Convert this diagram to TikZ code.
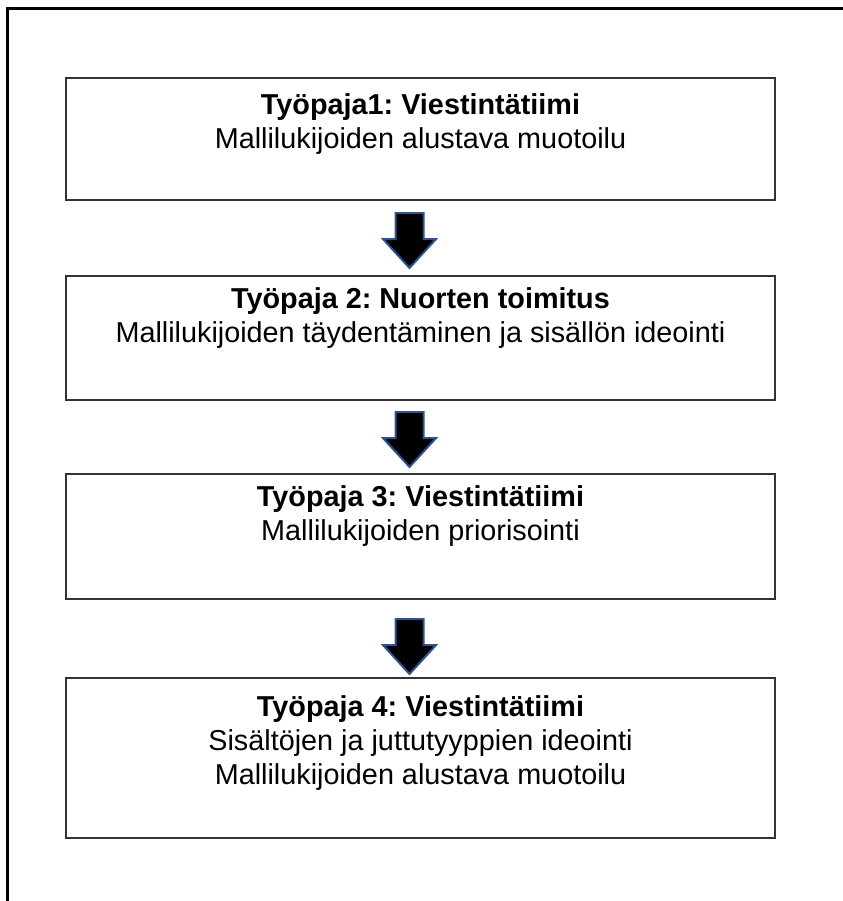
\documentclass[tikz,border=0pt]{standalone}
\usepackage{fontspec}
\setmainfont{Liberation Sans}
\frenchspacing
\usetikzlibrary{calc,shapes.arrows}
\definecolor{arrowblue}{RGB}{47,82,143}
\tikzset{
	phase/.style={draw=black!80, line width=1.5pt, minimum width=531.75pt, anchor=north west, inner sep=0pt},
	phasetext/.style={anchor=north, align=center, inner sep=0pt, font=\fontsize{21.6}{25.5}\selectfont},
	downarrow/.style={single arrow, shape border rotate=270, fill=black, draw=arrowblue, line width=1.5pt,
		minimum height=41.25pt, minimum width=38.25pt, single arrow head extend=9.4pt,
		single arrow tip angle=85, inner xsep=9.75pt, inner ysep=0pt, anchor=tail}
}

\begin{document}
\begin{tikzpicture}[x=0.75pt, y=-0.75pt]
		%%%%% START %%%%%
		\useasboundingbox (0, 0) rectangle (843, 901);
		
		\draw[line width=2.25pt] (7.5, 901) -- (7.5, 8.5) -- (843, 8.5);
		
		\node[phase, minimum height=91.5pt] (ws1) at (65, 77) {};
		\node[phase, minimum height=93pt] (ws2) at (65, 275) {};
		\node[phase, minimum height=93.75pt] (ws3) at (65, 473) {};
		\node[phase, minimum height=120pt] (ws4) at (65, 677) {};
		
		\node[phasetext] (t1) at ($(ws1.north)+(0, 16)$) {\textbf{Työpaja1: Viestintätiimi}\\Mallilukijoiden alustava muotoilu};
		\node[phasetext] (t2) at ($(ws2.north)+(0, 12)$) {\textbf{Työpaja 2: Nuorten toimitus}\\Mallilukijoiden täydentäminen ja sisällön ideointi};
		\node[phasetext] (t3) at ($(ws3.north)+(0, 12)$) {\textbf{Työpaja 3: Viestintätiimi}\\Mallilukijoiden priorisointi};
		\node[phasetext] (t4) at ($(ws4.north)+(0, 18)$) {\textbf{Työpaja 4: Viestintätiimi}\\Sisältöjen ja juttutyyppien ideointi\\Mallilukijoiden alustava muotoilu};
		
		\node[downarrow] (a1) at ($(ws1.south)+(-11, 11)$) {};
		\node[downarrow] (a2) at ($(ws2.south)+(-11, 10)$) {};
		\node[downarrow] (a3) at ($(ws3.south)+(-11, 18)$) {};
		
		%%%%% END %%%%%
	\end{tikzpicture}
\end{document}
